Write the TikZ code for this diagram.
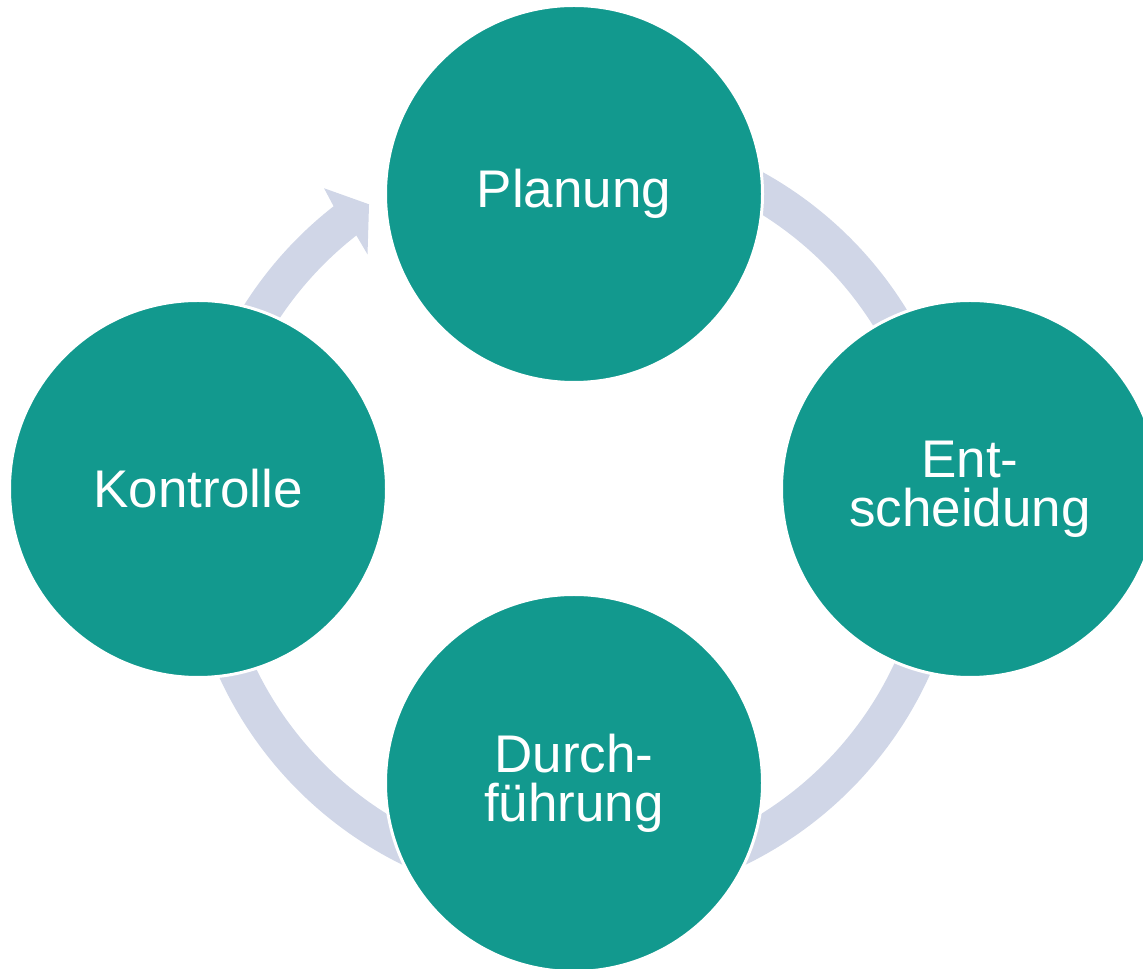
\documentclass[tikz,border=0pt]{standalone}
\usepackage{fontspec}
\setmainfont{Liberation Sans}
\usetikzlibrary{calc}
\definecolor{phasegreen}{RGB}{18,153,142}
\definecolor{cyclegrey}{RGB}{208,214,231}
\tikzset{
	phase/.style={circle, fill=phasegreen, draw=white, line width=3pt, minimum size=377pt, inner sep=0pt,
		text=white, align=center, font=\fontsize{53}{49}\selectfont},
	cycband/.style={draw=cyclegrey, line width=37pt},
}
\begin{document}
\begin{tikzpicture}[x=1pt, y=1pt]
\useasboundingbox (0,0) rectangle (1143,969);
\coordinate (O) at (574,455);
\draw[cycband] ([shift={(152:372)}]O) arc[start angle=152, end angle=127.5, radius=372];
\fill[cyclegrey] ([shift={(128:390.5)}]O) -- ([shift={(127.5:410.6)}]O) -- ([shift={(123.5:371.4)}]O)
	-- ([shift={(128.5:331.7)}]O) -- ([shift={(128:353.5)}]O) -- cycle;
\draw[cycband] ([shift={(65:372)}]O) arc[start angle=65, end angle=28, radius=372];
\draw[cycband] ([shift={(-20:372)}]O) arc[start angle=-20, end angle=-68, radius=372];
\draw[cycband] ([shift={(-112:372)}]O) arc[start angle=-112, end angle=-160, radius=372];
\node[phase] (plan) at (574,775) {Planung};
\node[phase] (ent) at (970,480) {Ent-\\scheidung};
\node[phase] (durch) at (574,186) {Durch-\\führung};
\node[phase] (kon) at (198,480) {Kontrolle};
\end{tikzpicture}
\end{document}
